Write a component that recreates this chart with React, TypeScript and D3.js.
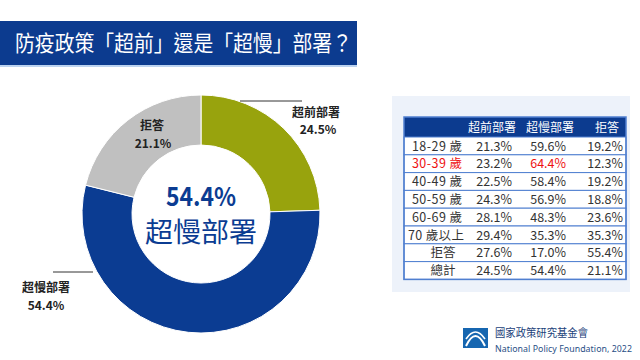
import React from "react";
import * as d3 from "d3";

const pieLabels = ["超前部署", "超慢部署", "拒答"];
const pieValues = [24.5, 54.4, 21.1];
const pieColors = ["#98a30d", "#0b3c92", "#c0c0c0"];

const tableHeaders = ["超前部署", "超慢部署", "拒答"];
const rowLabels = ["18-29 歲", "30-39 歲", "40-49 歲", "50-59 歲", "60-69 歲", "70 歲以上", "拒答", "總計"];
const colAhead = [21.3, 23.2, 22.5, 24.3, 28.1, 29.4, 27.6, 24.5];
const colSlow = [59.6, 64.4, 58.4, 56.9, 48.3, 35.3, 17.0, 54.4];
const colRefuse = [19.2, 12.3, 19.2, 18.8, 23.6, 35.3, 55.4, 21.1];
const highlightRow = 1;

const FONT = "'Noto Sans CJK TC', 'Noto Sans', sans-serif";

export default function App() {
  const cx = 201, cy = 214, rOut = 119, rIn = 69;
  const pie = d3.pie<number>().sort(null).value((d) => d)(pieValues);
  const arc = d3.arc<d3.PieArcDatum<number>>().innerRadius(rIn).outerRadius(rOut);

  const tx0 = 404, tx1 = 626, headTop = 117, headH = 20, rowH = 17.8;
  const colX = d3.scaleOrdinal<string, number>().domain(["a", "b", "c"]).range([512, 566, 623]);
  const headX = [492, 550, 607];
  const rowY = d3.scaleBand<number>().domain(d3.range(rowLabels.length)).range([headTop + headH, headTop + headH + rowH * rowLabels.length]);
  const fmt = (v: number) => v.toFixed(1) + "%";

  return (
    <svg width={640} height={360} style={{ position: "absolute", left: 0, top: 0, background: "#fff" }} fontFamily={FONT}>
      <rect x={0} y={0} width={640} height={360} fill="#fff" />
      {/* title */}
      <rect x={0} y={21} width={357} height={44} fill="#0c3b8f" />
      <rect x={0} y={65} width={357} height={2} fill="#bcd3f0" />
      <text x={15} y={51} fontSize={22} fill="#fff" textLength={337} lengthAdjust="spacingAndGlyphs">防疫政策「超前」還是「超慢」部署？</text>

      {/* donut */}
      <g transform={`translate(${cx},${cy})`}>
        {pie.map((p, i) => (
          <path key={i} d={arc(p) || ""} fill={pieColors[i]} stroke="#fff" strokeWidth={1} />
        ))}
        <text x={0} y={-8} textAnchor="middle" fontSize={26} fontWeight="bold" fill="#0b3c92" textLength={70} lengthAdjust="spacingAndGlyphs">{fmt(pieValues[1])}</text>
        <text x={0} y={28} textAnchor="middle" fontSize={27} fill="#0b3c92" textLength={112} lengthAdjust="spacingAndGlyphs">{pieLabels[1]}</text>
      </g>
      <line x1={240} y1={101} x2={302} y2={101} stroke="#333" strokeWidth={1} />
      <text x={316} y={117} textAnchor="middle" fontSize={12} fontWeight="bold" fill="#222">{pieLabels[0]}</text>
      <text x={318} y={134} textAnchor="middle" fontSize={12} fontWeight="bold" fill="#222">{fmt(pieValues[0])}</text>
      <text x={152} y={130} textAnchor="middle" fontSize={12} fontWeight="bold" fill="#222">{pieLabels[2]}</text>
      <text x={153} y={148} textAnchor="middle" fontSize={12} fontWeight="bold" fill="#222">{fmt(pieValues[2])}</text>
      <line x1={53} y1={272} x2={93} y2={272} stroke="#333" strokeWidth={1} />
      <text x={46} y={292} textAnchor="middle" fontSize={12} fontWeight="bold" fill="#222">{pieLabels[1]}</text>
      <text x={46} y={310} textAnchor="middle" fontSize={12} fontWeight="bold" fill="#222">{fmt(pieValues[1])}</text>

      {/* table panel */}
      <rect x={392} y={96} width={238} height={196} fill="#edf2fa" />
      <rect x={tx0} y={headTop} width={tx1 - tx0} height={headH} fill="#0c3b8f" />
      {tableHeaders.map((h, i) => (
        <text key={h} x={headX[i]} y={headTop + 14.5} textAnchor="middle" fontSize={12} fill="#fff">{h}</text>
      ))}
      {rowLabels.map((lab, i) => {
        const y = rowY(i) as number;
        const red = i === highlightRow;
        const isAge = lab.includes("歲");
        const isLong = lab.indexOf("以上") >= 0;
        return (
          <g key={lab}>
            <rect x={tx0} y={y} width={tx1 - tx0} height={rowY.bandwidth()} fill="#fff" stroke="#4f7fd0" strokeWidth={1} />
            <text x={isAge ? (isLong ? 408 : 412) : 443} y={y + 13.5} textAnchor={isAge ? "start" : "middle"} fontSize={12.5} fill={red ? "#ee1111" : "#333"} textLength={isAge ? (isLong ? 56 : 50) : undefined} lengthAdjust="spacing">{lab}</text>
            <text x={colX("a")} y={y + 13.5} textAnchor="end" fontSize={12.5} fill="#333">{fmt(colAhead[i])}</text>
            <text x={colX("b")} y={y + 13.5} textAnchor="end" fontSize={12.5} fill={red ? "#ee1111" : "#333"}>{fmt(colSlow[i])}</text>
            <text x={colX("c")} y={y + 13.5} textAnchor="end" fontSize={12.5} fill="#333">{fmt(colRefuse[i])}</text>
          </g>
        );
      })}
      <rect x={tx0} y={headTop} width={tx1 - tx0} height={headH + rowH * rowLabels.length} fill="none" stroke="#4f7fd0" strokeWidth={1.5} />

      {/* logo */}
      <rect x={463} y={328} width={25} height={20} fill="#1666b0" />
      <path d="M466,346 Q475.5,326 485,346" fill="none" stroke="#fff" strokeWidth={2} />
      <path d="M466,339 Q475.5,325 485,339" fill="none" stroke="#fff" strokeWidth={1.6} />
      <text x={495} y={337} fontSize={11} fill="#1b3f7a" textLength={93} lengthAdjust="spacingAndGlyphs">國家政策研究基金會</text>
      <text x={495} y={352} fontSize={8.8} fontFamily="'Noto Sans', sans-serif" fill="#2a4f85" textLength={137} lengthAdjust="spacing">National Policy Foundation, 2022</text>
    </svg>
  );
}
